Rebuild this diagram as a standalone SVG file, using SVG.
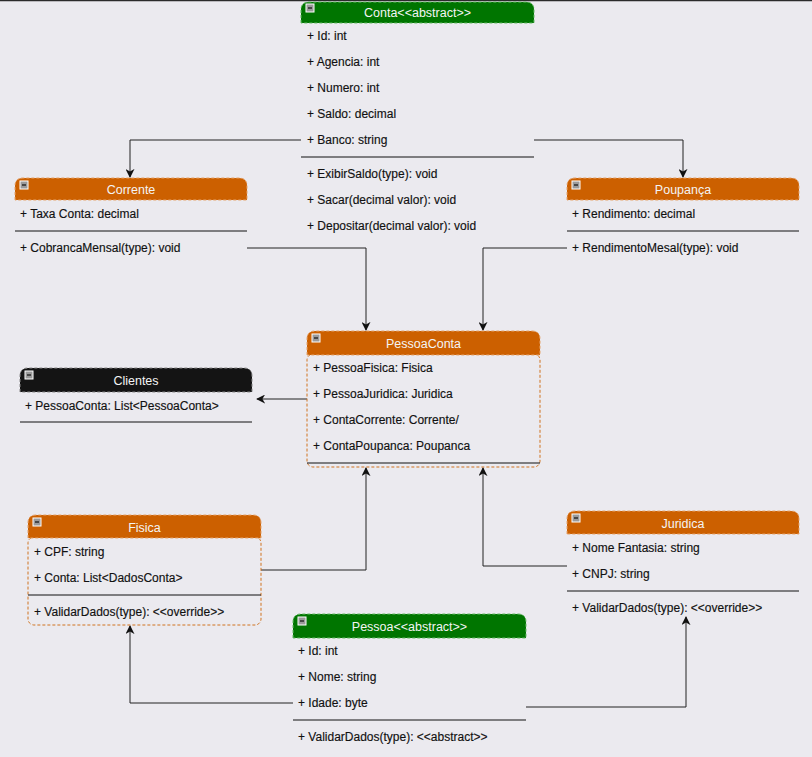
<svg xmlns="http://www.w3.org/2000/svg" width="812" height="757" viewBox="0 0 812 757">
  <style>
    .hdr-text { font-family: "Liberation Sans", Arial, sans-serif; font-size: 12.5px; fill: #f4f4f4; text-anchor: middle; }
    .row { font-family: "Liberation Sans", Arial, sans-serif; font-size: 12px; fill: #111; stroke: #111; stroke-width: 0.15; }
    .sep { stroke: #111; stroke-width: 1; }
    .edge { fill: none; stroke: #222; stroke-width: 1; }
    .orange { fill: #cc6000; stroke: #e6a36b; stroke-dasharray: 3 2; }
    .green { fill: #007500; stroke: #66bb66; stroke-dasharray: 3 2; }
    .black { fill: #141414; stroke: #888; stroke-dasharray: 3 2; }
    .body-dash { fill: none; stroke: #d0731f; stroke-dasharray: 3 2; }
    .tog-box { fill: #9a9a9a; stroke: #fff; stroke-width: 1; }
    .tog-line { stroke: #111; stroke-width: 1.2; }
  </style>
  <defs>
    <marker id="arr" viewBox="0 0 10 10" refX="9" refY="5" markerWidth="9" markerHeight="9" orient="auto" markerUnits="userSpaceOnUse">
      <path d="M0,0 L10,5 L0,10 L3,5 Z" fill="#111"/>
    </marker>
    <g id="tog">
      <rect class="tog-box" x="0" y="0" width="8" height="8"/>
      <line class="tog-line" x1="2" y1="4" x2="6" y2="4"/>
    </g>
  </defs>

  <rect x="0" y="0" width="812" height="757" fill="#ebeaef"/>
  <line x1="0" y1="0.5" x2="812" y2="0.5" stroke="#2b2b2b" stroke-width="1.5"/>

  <!-- connectors -->
  <g id="connectors">
    <polyline class="edge" points="301,140 130,140 130,177" marker-end="url(#arr)"/>
    <polyline class="edge" points="534,140 683,140 683,177" marker-end="url(#arr)"/>
    <polyline class="edge" points="247,248 366,248 366,330" marker-end="url(#arr)"/>
    <polyline class="edge" points="567,248 483,248 483,330" marker-end="url(#arr)"/>
    <polyline class="edge" points="307,399 257,399" marker-end="url(#arr)"/>
    <polyline class="edge" points="261,570 366,570 366,468" marker-end="url(#arr)"/>
    <polyline class="edge" points="567,566 483,566 483,468" marker-end="url(#arr)"/>
    <polyline class="edge" points="293,703 130,703 130,626" marker-end="url(#arr)"/>
    <polyline class="edge" points="526,707 686,707 686,617" marker-end="url(#arr)"/>
  </g>

  <!-- Conta -->
  <g id="conta">
    <path class="green" d="M301,23 L301,10 Q301,2 309,2 L526,2 Q534,2 534,10 L534,23 Z"/>
    <use href="#tog" x="306" y="4"/>
    <text class="hdr-text" x="417.5" y="17">Conta&lt;&lt;abstract&gt;&gt;</text>
    <text class="row" x="307" y="40">+ Id: int</text>
    <text class="row" x="307" y="66">+ Agencia: int</text>
    <text class="row" x="307" y="92">+ Numero: int</text>
    <text class="row" x="307" y="118">+ Saldo: decimal</text>
    <text class="row" x="307" y="144">+ Banco: string</text>
    <line class="sep" x1="301" y1="157" x2="534" y2="157"/>
    <text class="row" x="307" y="178">+ ExibirSaldo(type): void</text>
    <text class="row" x="307" y="204">+ Sacar(decimal valor): void</text>
    <text class="row" x="307" y="230">+ Depositar(decimal valor): void</text>
  </g>

  <!-- Corrente -->
  <g id="corrente">
    <path class="orange" d="M15,200 L15,186 Q15,178 23,178 L239,178 Q247,178 247,186 L247,200 Z"/>
    <use href="#tog" x="20" y="181"/>
    <text class="hdr-text" x="131" y="194">Corrente</text>
    <text class="row" x="20" y="218">+ Taxa Conta: decimal</text>
    <line class="sep" x1="15" y1="231" x2="247" y2="231"/>
    <text class="row" x="20" y="252">+ CobrancaMensal(type): void</text>
  </g>

  <!-- Poupanca -->
  <g id="poupanca">
    <path class="orange" d="M567,200 L567,186 Q567,178 575,178 L791,178 Q799,178 799,186 L799,200 Z"/>
    <use href="#tog" x="572" y="181"/>
    <text class="hdr-text" x="683" y="194">Poupança</text>
    <text class="row" x="572" y="218">+ Rendimento: decimal</text>
    <line class="sep" x1="567" y1="231" x2="799" y2="231"/>
    <text class="row" x="572" y="252">+ RendimentoMesal(type): void</text>
  </g>

  <!-- PessoaConta -->
  <g id="pessoaconta">
    <rect class="body-dash" x="307" y="354" width="233" height="113" rx="6"/>
    <path class="orange" d="M307,355 L307,339 Q307,331 315,331 L532,331 Q540,331 540,339 L540,355 Z"/>
    <use href="#tog" x="312" y="334"/>
    <text class="hdr-text" x="423.5" y="348">PessoaConta</text>
    <text class="row" x="313" y="372">+ PessoaFisica: Fisica</text>
    <text class="row" x="313" y="398">+ PessoaJuridica: Juridica</text>
    <text class="row" x="313" y="424">+ ContaCorrente: Corrente/</text>
    <text class="row" x="313" y="450">+ ContaPoupanca: Poupanca</text>
    <line class="sep" x1="307" y1="463" x2="540" y2="463"/>
  </g>

  <!-- Clientes -->
  <g id="clientes">
    <path class="black" d="M20,392 L20,376 Q20,368 28,368 L244,368 Q252,368 252,376 L252,392 Z"/>
    <use href="#tog" x="25" y="371"/>
    <text class="hdr-text" x="136" y="385">Clientes</text>
    <text class="row" x="25" y="410">+ PessoaConta: List&lt;PessoaConta&gt;</text>
    <line class="sep" x1="20" y1="422" x2="252" y2="422"/>
  </g>

  <!-- Fisica -->
  <g id="fisica">
    <rect class="body-dash" x="28" y="537" width="233" height="88" rx="6"/>
    <path class="orange" d="M28,538 L28,523 Q28,515 36,515 L253,515 Q261,515 261,523 L261,538 Z"/>
    <use href="#tog" x="33" y="518"/>
    <text class="hdr-text" x="144.5" y="532">Fisica</text>
    <text class="row" x="34" y="556">+ CPF: string</text>
    <text class="row" x="34" y="582">+ Conta: List&lt;DadosConta&gt;</text>
    <line class="sep" x1="28" y1="595" x2="261" y2="595"/>
    <text class="row" x="34" y="616">+ ValidarDados(type): &lt;&lt;override&gt;&gt;</text>
  </g>

  <!-- Juridica -->
  <g id="juridica">
    <path class="orange" d="M567,534 L567,519 Q567,511 575,511 L791,511 Q799,511 799,519 L799,534 Z"/>
    <use href="#tog" x="572" y="514"/>
    <text class="hdr-text" x="683" y="528">Juridica</text>
    <text class="row" x="572" y="552">+ Nome Fantasia: string</text>
    <text class="row" x="572" y="578">+ CNPJ: string</text>
    <line class="sep" x1="567" y1="591" x2="799" y2="591"/>
    <text class="row" x="572" y="612">+ ValidarDados(type): &lt;&lt;override&gt;&gt;</text>
  </g>

  <!-- Pessoa -->
  <g id="pessoa">
    <path class="green" d="M293,638 L293,622 Q293,614 301,614 L518,614 Q526,614 526,622 L526,638 Z"/>
    <use href="#tog" x="298" y="617"/>
    <text class="hdr-text" x="409.5" y="631">Pessoa&lt;&lt;abstract&gt;&gt;</text>
    <text class="row" x="298" y="655">+ Id: int</text>
    <text class="row" x="298" y="681">+ Nome: string</text>
    <text class="row" x="298" y="707">+ Idade: byte</text>
    <line class="sep" x1="293" y1="720" x2="526" y2="720"/>
    <text class="row" x="298" y="741">+ ValidarDados(type): &lt;&lt;abstract&gt;&gt;</text>
  </g>
</svg>
